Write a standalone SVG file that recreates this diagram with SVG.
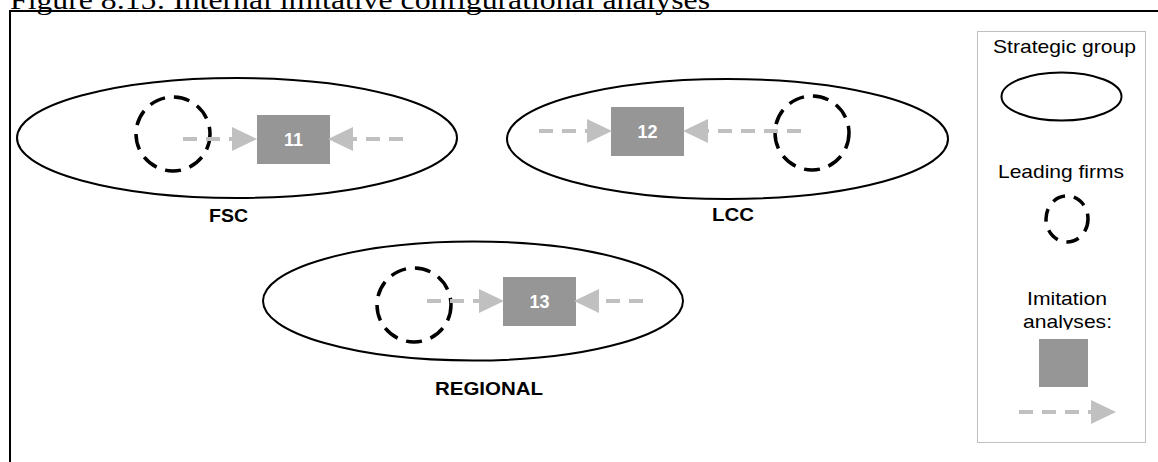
<svg xmlns="http://www.w3.org/2000/svg" width="1158" height="462" viewBox="0 0 1158 462">
<style>
.title{font-family:"Liberation Serif","Times New Roman",serif;font-size:28px;fill:#000}
.grp{fill:none;stroke:#000;stroke-width:2}
.lead{fill:none;stroke:#000;stroke-width:3.5;stroke-dasharray:16 9}
.box{fill:#969696}
.num{font-family:"Liberation Sans",Arial,sans-serif;font-weight:bold;font-size:18px;fill:#fff;text-anchor:middle}
.lbl{font-family:"Liberation Sans",Arial,sans-serif;font-weight:bold;font-size:18.5px;fill:#000}
.leg{font-family:"Liberation Sans",Arial,sans-serif;font-size:18.5px;fill:#000}
.arr{fill:none;stroke:#c0c0c0;stroke-width:4;stroke-dasharray:14 9}
</style>
<defs>
<marker id="tri" markerUnits="userSpaceOnUse" markerWidth="25" markerHeight="24" refX="0" refY="12" orient="auto" overflow="visible">
<path d="M0,0 L25,12 L0,24 Z" fill="#c0c0c0"/>
</marker>
<clipPath id="clipAn"><rect x="1000" y="300" width="130" height="29.5"/></clipPath>
</defs>
<rect width="1158" height="462" fill="#fff"/>
<text class="title" x="10" y="9" textLength="700" lengthAdjust="spacingAndGlyphs">Figure 8.15: Internal imitative configurational analyses</text>
<rect x="10" y="11" width="1200" height="500" fill="none" stroke="#000" stroke-width="2"/>

<g id="fsc">
<ellipse class="grp" cx="237" cy="138" rx="220" ry="60"/>
<text class="lbl" x="209" y="222" textLength="39" lengthAdjust="spacingAndGlyphs">FSC</text>
</g>
<g id="fsc-lead"><circle class="lead" cx="173" cy="134" r="37"/></g>
<g id="n11">
<rect class="box" x="257" y="115" width="73" height="49"/>
<text class="num" x="293.5" y="146">11</text>
</g>

<g id="lcc">
<ellipse class="grp" cx="727.5" cy="139" rx="220.5" ry="60"/>
<text class="lbl" x="712" y="221" textLength="42" lengthAdjust="spacingAndGlyphs">LCC</text>
</g>
<g id="lcc-lead"><circle class="lead" cx="812" cy="133" r="37"/></g>
<g id="n12">
<rect class="box" x="611" y="107" width="73" height="49"/>
<text class="num" x="647.5" y="138">12</text>
</g>

<g id="regional">
<ellipse class="grp" cx="473" cy="301" rx="210" ry="59.5"/>
<text class="lbl" x="435" y="395" textLength="108" lengthAdjust="spacingAndGlyphs">REGIONAL</text>
</g>
<g id="regional-lead"><circle class="lead" cx="414" cy="305" r="37"/></g>
<g id="n13">
<rect class="box" x="503" y="277" width="73" height="49"/>
<text class="num" x="539.5" y="308">13</text>
</g>

<g id="connectors">
<line class="arr" x1="183" y1="139" x2="232" y2="139" marker-end="url(#tri)"/>
<line class="arr" x1="403" y1="139" x2="353" y2="139" marker-end="url(#tri)"/>
<line class="arr" x1="539" y1="131" x2="587" y2="131" marker-end="url(#tri)"/>
<line class="arr" x1="801" y1="131" x2="708" y2="131" marker-end="url(#tri)"/>
<line class="arr" x1="427" y1="301" x2="479" y2="301" marker-end="url(#tri)"/>
<line class="arr" x1="643" y1="301" x2="599" y2="301" marker-end="url(#tri)"/>
</g>

<g id="legend">
<rect x="977.5" y="31.5" width="168" height="411" fill="#fff" stroke="#c0c0c0" stroke-width="1"/>
<text class="leg" x="993" y="53" textLength="143" lengthAdjust="spacingAndGlyphs">Strategic group</text>
<ellipse class="grp" cx="1061.5" cy="96.5" rx="60" ry="24"/>
<text class="leg" x="998" y="178" textLength="126" lengthAdjust="spacingAndGlyphs">Leading firms</text>
<ellipse cx="1067" cy="219" rx="21" ry="23" fill="none" stroke="#000" stroke-width="3.5" stroke-dasharray="13 9"/>
<text class="leg" x="1027" y="305" textLength="80" lengthAdjust="spacingAndGlyphs">Imitation</text>
<text class="leg" x="1023" y="328" textLength="89" lengthAdjust="spacingAndGlyphs" clip-path="url(#clipAn)">analyses:</text>
<rect class="box" x="1039" y="339" width="49" height="48"/>
<line class="arr" x1="1019" y1="412" x2="1091" y2="412" marker-end="url(#tri)"/>
</g>
</svg>
